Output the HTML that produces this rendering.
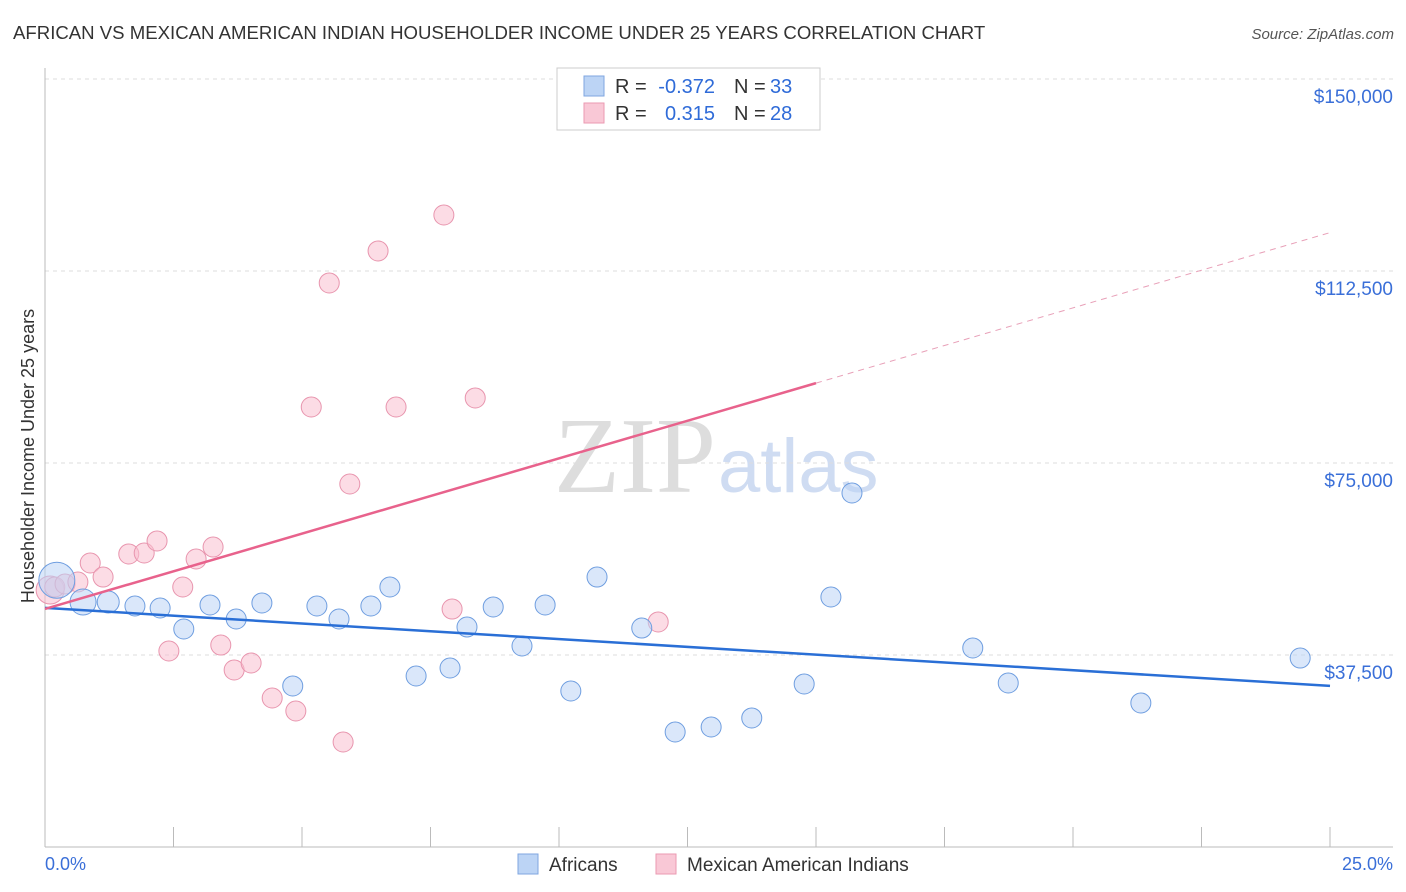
<!DOCTYPE html>
<html><head><meta charset="utf-8"><style>
body{margin:0;background:#fff;font-family:"Liberation Sans",sans-serif}
svg{display:block}
</style></head><body>
<svg id="c" width="1406" height="892">
<text x="13" y="39" font-size="18.6" fill="#333">AFRICAN VS MEXICAN AMERICAN INDIAN HOUSEHOLDER INCOME UNDER 25 YEARS CORRELATION CHART</text>
<text x="1394" y="39" font-size="15" fill="#555" font-style="italic" text-anchor="end">Source: ZipAtlas.com</text>
<text x="0" y="0" transform="translate(34,456) rotate(-90)" font-size="18" fill="#333" text-anchor="middle">Householder Income Under 25 years</text>
<text x="716" y="492" font-size="108" fill="#ddd" font-family="Liberation Serif,serif" text-anchor="end">ZIP</text>
<text x="718" y="492" font-size="76" fill="#cfdcf2">atlas</text>
<g id="grid"></g><g id="marks"></g>
<g font-size="20">
<rect x="557" y="68" width="263" height="62" fill="#fff" stroke="#ccc"/>
<rect x="584" y="76" width="20" height="20" fill="#bcd4f5" stroke="#7fa6e0"/>
<rect x="584" y="103" width="20" height="20" fill="#f9c8d6" stroke="#eb9ab2"/>
<text x="615" y="93" fill="#333">R =</text><text x="715" y="93" fill="#2f6bd8" text-anchor="end">-0.372</text>
<text x="734" y="93" fill="#333">N =</text><text x="770" y="93" fill="#2f6bd8">33</text>
<text x="615" y="120" fill="#333">R =</text><text x="715" y="120" fill="#2f6bd8" text-anchor="end">0.315</text>
<text x="734" y="120" fill="#333">N =</text><text x="770" y="120" fill="#2f6bd8">28</text>
</g>
<g>
<rect x="518" y="854" width="20" height="20" fill="#bcd4f5" stroke="#7fa6e0"/>
<text x="549" y="871" font-size="19" fill="#333">Africans</text>
<rect x="656" y="854" width="20" height="20" fill="#f9c8d6" stroke="#eb9ab2"/>
<text x="687" y="871" font-size="19" fill="#333">Mexican American Indians</text>
</g>
<text x="45" y="870" font-size="18" fill="#3a6fd8">0.0%</text>
<text x="1393" y="870" font-size="18" fill="#3a6fd8" text-anchor="end">25.0%</text>
</svg>
<script>
const yTicks=[37500,75000,112500,150000];
const yTickLabels=["$37,500","$75,000","$112,500","$150,000"];
const blueX=[0.23,0.74,1.23,1.75,2.24,2.70,3.21,3.72,4.22,4.82,5.29,5.72,6.34,6.71,7.22,7.88,8.21,8.72,9.28,9.73,10.23,10.74,11.61,12.26,12.96,13.75,14.77,15.29,15.70,18.05,18.74,21.32,24.42];
const blueY=[52100,47850,47850,47070,46680,42580,47270,44530,47660,31450,47070,44530,47070,50780,33400,34960,42970,46880,39260,47270,30470,52730,42770,22460,23440,25200,31840,48830,69140,38870,32030,28130,36910];
const blueR=[18,13,11,10,10,10,10,10,10,10,10,10,10,10,10,10,10,10,10,10,10,10,10,10,10,10,10,10,10,10,10,10,10];
const pinkX=[0.10,0.19,0.39,0.64,0.88,1.13,1.63,1.93,2.18,2.41,2.68,2.94,3.27,3.42,3.68,4.01,4.42,4.88,5.18,5.53,5.80,5.93,6.48,6.83,7.76,7.92,8.37,11.93];
const pinkY=[50200,50780,51370,51760,55470,52730,57230,57420,59770,38280,50780,56250,58590,39450,34570,35940,29100,26560,85940,110160,20510,70900,116410,85940,123440,46480,87700,43950];
const pinkR=[14,10,10,10,10,10,10,10,10,10,10,10,10,10,10,10,10,10,10,10,10,10,10,10,10,10,10,10];
const blueTrend=[46700,-609];
const pinkTrend=[46500,2940];
const NS='http://www.w3.org/2000/svg';
const X=v=>45+v/25*1285, Y=v=>847-v/37500*192;
function mk(t,a,p){const e=document.createElementNS(NS,t);for(const k in a)e.setAttribute(k,a[k]);p.appendChild(e);return e;}
const g=document.getElementById('grid'), m=document.getElementById('marks');
yTicks.forEach((t,i)=>{
 const l=mk('line',{x1:45,x2:1393,y1:Y(t),y2:Y(t),stroke:'#ddd','stroke-dasharray':'4,4'},g);
 
 
 const tx=mk('text',{x:1393,y:Y(t)+24,'font-size':19,fill:'#3a6fd8','text-anchor':'end'},g);
 tx.textContent=yTickLabels[i];
 
 
});
mk('line',{x1:45,x2:45,y1:68,y2:847,stroke:'#bbb'},g);
mk('line',{x1:45,x2:1393,y1:847,y2:847,stroke:'#bbb'},g);
for(let i=0;i<=10;i++){const tk=mk('line',{x1:X(i*2.5),x2:X(i*2.5),y1:827,y2:847,stroke:'#bbb'},g);
 
 }
function pts(xs,ys,rs,fill,stroke,name){xs.forEach((x,i)=>{const c=mk('circle',{cx:X(x),cy:Y(ys[i]),r:rs[i],fill:fill,stroke:stroke,'stroke-width':1,'fill-opacity':0.55},m);
 
 });}
pts(pinkX,pinkY,pinkR,'#f9c0d0','#e895ae','mexican-american-indian-point');
pts(blueX,blueY,blueR,'#bcd4f5','#6f9ee0','african-point');
const bl=mk('line',{x1:X(0),y1:Y(blueTrend[0]),x2:X(25),y2:Y(blueTrend[0]+25*blueTrend[1]),stroke:'#2a6fd6','stroke-width':2.5},m);


const pl=mk('line',{x1:X(0),y1:Y(pinkTrend[0]),x2:X(15),y2:Y(pinkTrend[0]+15*pinkTrend[1]),stroke:'#e8628c','stroke-width':2.5},m);


const pd=mk('line',{x1:X(15),y1:Y(pinkTrend[0]+15*pinkTrend[1]),x2:X(25),y2:Y(pinkTrend[0]+25*pinkTrend[1]),stroke:'#e8a0b8','stroke-width':1,'stroke-dasharray':'6,5'},m);


</script>
</body></html>
